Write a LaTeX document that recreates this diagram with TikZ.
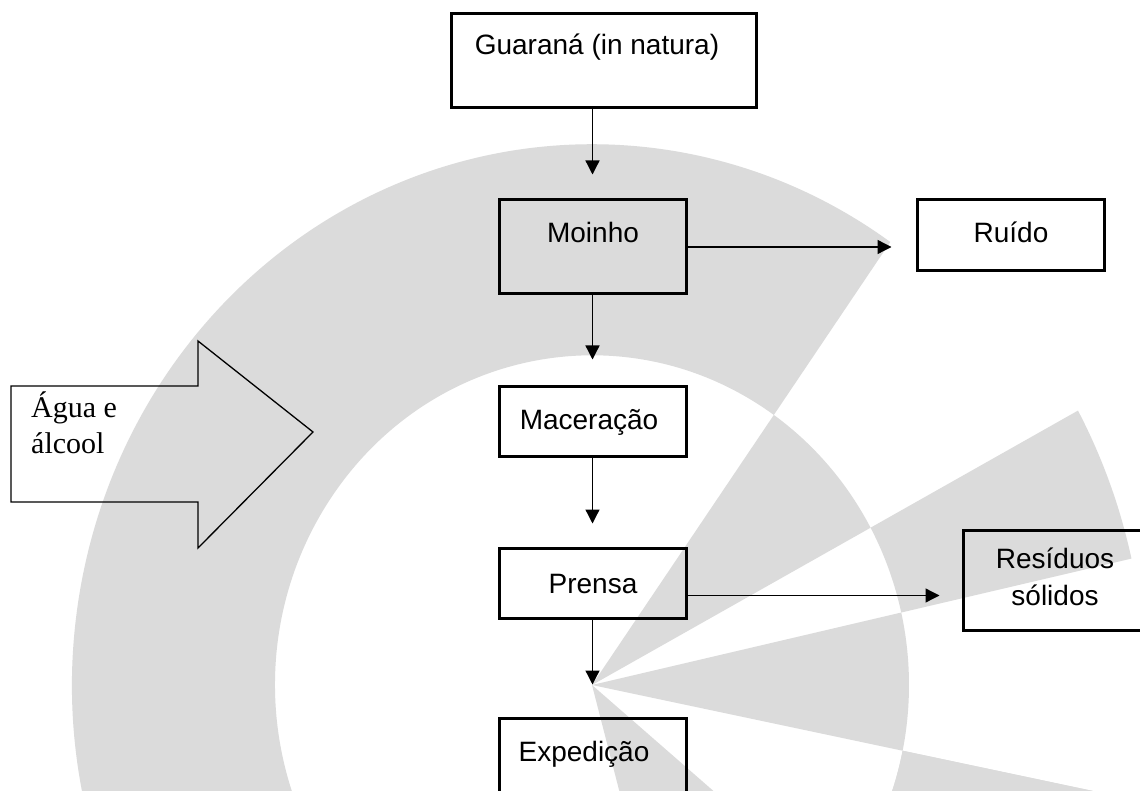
\documentclass[tikz,border=0pt]{standalone}
\usepackage{fontspec}
\setmainfont{Liberation Serif}
\newfontfamily\arialf{Liberation Sans}
\usetikzlibrary{arrows.meta}
\definecolor{wmgray}{gray}{0.86}
\begin{document}
\begin{tikzpicture}[x=1pt,y=-1pt,
  box/.style={draw, line width=3pt, rectangle, inner sep=0pt},
  txt/.style={font=\arialf\fontsize{28}{37}\selectfont, anchor=base, inner sep=0pt, align=center},
  arr/.style={-{Triangle[length=14pt,width=14pt]}, line width=1.3pt},
  wm/.style={fill=wmgray}]
\useasboundingbox (0,0) rectangle (1140,791);
\clip (0,0) rectangle (1140,791);
\fill[white] (0,0) rectangle (1140,791);
% watermark
\begin{scope}[shift={(592,685)}, x=1pt, y=1.04pt]
  \fill[wm] (55:317) arc[start angle=55, end angle=348.5, radius=317] -- (348.5:520) arc[start angle=348.5, end angle=55, radius=520] -- cycle;
  \fill[wm] (0,0) -- (28.5:317) arc[start angle=28.5, end angle=55, radius=317] -- cycle;
  \fill[wm] (0,0) -- (-11.5:317) arc[start angle=-11.5, end angle=12.7, radius=317] -- cycle;
  \fill[wm] (0,0) -- (-75:317) arc[start angle=-75, end angle=-40, radius=317] -- cycle;
  \fill[wm] (12.7:317) arc[start angle=12.7, end angle=28.5, radius=317] -- (28.5:553) arc[start angle=28.5, end angle=12.7, radius=553] -- cycle;
  \fill[wm] (-30:317) arc[start angle=-30, end angle=-11.5, radius=317] -- (-11.5:553) arc[start angle=-11.5, end angle=-30, radius=553] -- cycle;
\end{scope}
% boxes
\node[box, minimum width=304.5pt, minimum height=94pt] (g) at (603.75,61) {};
\node[box, minimum width=187pt, minimum height=94pt] (m) at (592.5,247) {};
\node[box, minimum width=187pt, minimum height=71pt] (r) at (1010.5,235.5) {};
\node[box, minimum width=187pt, minimum height=70pt] (mc) at (592.5,421) {};
\node[box, minimum width=187pt, minimum height=70pt] (p) at (592.5,583.5) {};
\node[box, minimum width=182pt, minimum height=100pt] (rs) at (1054,580) {};
\node[box, minimum width=187pt, minimum height=102pt] (e) at (592.5,769) {};
% texts
\node[txt] (tg) at (597,55) {Guaraná (in natura)};
\node[txt] (tm) at (593,243) {Moinho};
\node[txt] (tr) at (1011,243) {Ruído};
\node[txt] (tmc) at (589,429) {Maceração};
\node[txt] (tp) at (593,593) {Prensa};
\node[txt] (trs) at (1055,605) {Resíduos\\sólidos};
\node[txt] (te) at (584,761) {Expedição};
% connectors
\draw[arr, shorten >=24pt] (g.south -| m.north) -- (m.north);
\draw[arr, shorten >=25pt] (m.south) -- (mc.north);
\draw[arr, shorten >=23.5pt] (mc.south) -- (p.north);
\draw[arr, shorten >=32pt] (p.south) -- (e.north);
\draw[arr, shorten >=24pt] (m.east) -- (m.east -| r.west);
\draw[arr, shorten >=22pt] ([yshift=-12pt]p.east) -- ([yshift=-12pt]p.east -| rs.west);
% input arrow
\draw[line width=1.3pt, line join=miter] (11,386) -- (198,386) -- (198,341) -- (313,432) -- (198,548) -- (198,502) -- (11,502) -- cycle;
\node[font=\fontsize{30}{36}\selectfont, anchor=base west, inner sep=0pt, align=left] (ag) at (31,417) {Água e};
\node[font=\fontsize{30}{36}\selectfont, anchor=base west, inner sep=0pt, align=left] (al) at (31,453) {álcool};
\end{tikzpicture}
\end{document}
